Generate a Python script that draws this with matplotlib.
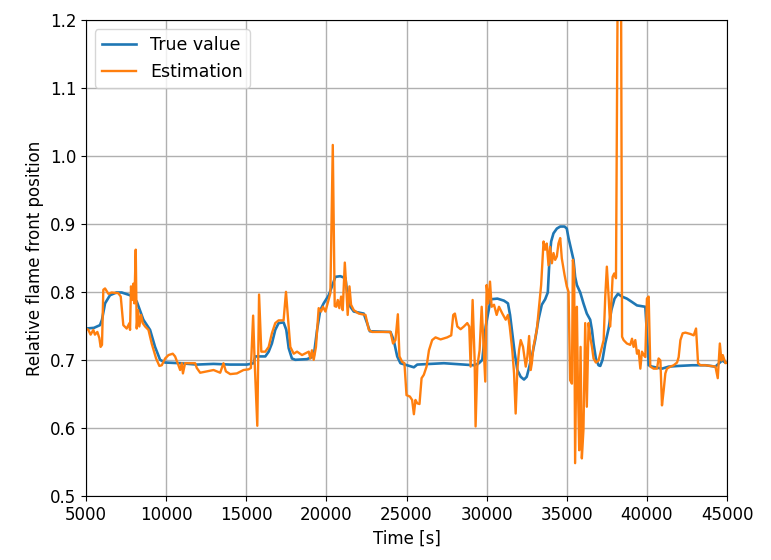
import matplotlib
matplotlib.use('Agg')
import matplotlib.pyplot as plt

# true value of the flame front position (time in s)
true_t = [5000, 5500, 5875, 6000, 6190, 6500, 6900, 7230, 7750, 8166,
          8580, 9000, 9310, 9625, 9940, 10875, 11915, 12960, 14000, 15040,
          15460, 15560, 16190, 16400, 16600, 16810, 17020, 17330, 17500, 17650,
          17850, 18060, 18790, 19210, 19420, 19620, 19830, 20150, 20350, 20560,
          20870, 21190, 21330, 21500, 21710, 22330, 22540, 22710, 24000, 24200,
          24420, 24620, 25040, 25460, 25670, 27330, 29210, 29520, 29730, 29940,
          30250, 30670, 31080, 31330, 31460, 31600, 31750, 31915, 32125, 32330,
          32500, 32610, 32820, 33025, 33230, 33440, 33650, 33815, 33920, 34025,
          34170, 34380, 34590, 34860, 35000, 35110, 35275, 35420, 35520, 35630,
          35840, 36040, 36250, 36460, 36570, 36670, 36815, 36980, 37090, 37230,
          37400, 37610, 37780, 37980, 38190, 38440, 38750, 39070, 39380, 39900,
          40025, 40110, 40320, 40940, 41360, 41980, 42820, 43650, 44275, 44690,
          44900, 45000]
true_y = [0.747, 0.748, 0.752, 0.760, 0.784, 0.796, 0.800, 0.800, 0.796, 0.787,
          0.760, 0.745, 0.720, 0.701, 0.697, 0.696, 0.694, 0.695, 0.694, 0.694,
          0.696, 0.706, 0.706, 0.713, 0.725, 0.745, 0.755, 0.756, 0.745, 0.718,
          0.703, 0.701, 0.702, 0.706, 0.745, 0.774, 0.784, 0.796, 0.809, 0.823,
          0.824, 0.821, 0.794, 0.779, 0.772, 0.769, 0.755, 0.743, 0.742, 0.730,
          0.706, 0.696, 0.693, 0.690, 0.694, 0.696, 0.693, 0.696, 0.701, 0.750,
          0.790, 0.791, 0.788, 0.784, 0.767, 0.740, 0.711, 0.686, 0.676, 0.672,
          0.676, 0.686, 0.706, 0.730, 0.760, 0.782, 0.790, 0.800, 0.848, 0.875,
          0.887, 0.894, 0.897, 0.897, 0.894, 0.880, 0.863, 0.848, 0.823, 0.811,
          0.800, 0.784, 0.769, 0.760, 0.745, 0.725, 0.703, 0.693, 0.692, 0.701,
          0.725, 0.747, 0.774, 0.791, 0.798, 0.794, 0.791, 0.786, 0.781, 0.779,
          0.730, 0.693, 0.691, 0.688, 0.691, 0.692, 0.693, 0.693, 0.691, 0.700,
          0.697, 0.697]

# estimated flame front position
est_t = [5000, 5150, 5290, 5460, 5560, 5710, 5835, 5915, 6000, 6083,
         6190, 6400, 6600, 7020, 7170, 7330, 7540, 7710, 7750, 7810,
         7895, 7960, 8020, 8105, 8166, 8250, 8330, 8440, 8540, 8690,
         8900, 9100, 9375, 9580, 9730, 9940, 10150, 10415, 10560, 10770,
         10875, 10980, 11050, 11185, 11810, 11915, 12125, 12540, 12960, 13375,
         13580, 13730, 14000, 14415, 14830, 15145, 15290, 15430, 15520, 15690,
         15800, 15940, 16190, 16400, 16600, 16810, 17020, 17330, 17480, 17600,
         17750, 17960, 18170, 18480, 18900, 19000, 19100, 19210, 19350, 19520,
         19670, 19790, 19940, 20080, 20250, 20400, 20520, 20620, 20710, 20810,
         20920, 21020, 21150, 21250, 21330, 21440, 21540, 21710, 22020, 22440,
         22650, 22850, 23270, 24000, 24160, 24310, 24460, 24560, 24730, 24870,
         25000, 25210, 25350, 25460, 25560, 25670, 25810, 25940, 26080, 26250,
         26400, 26600, 26810, 27125, 27540, 27790, 27915, 28020, 28170, 28375,
         28580, 28790, 28915, 29000, 29125, 29250, 29310, 29415, 29560, 29690,
         29830, 29915, 30000, 30100, 30210, 30310, 30460, 30625, 30770, 30980,
         31190, 31330, 31440, 31600, 31710, 31810, 31915, 32020, 32125, 32270,
         32440, 32540, 32650, 32750, 32820, 32920, 33130, 33275, 33400, 33550,
         33650, 33750, 33860, 33960, 34070, 34170, 34275, 34380, 34480, 34590,
         34690, 34860, 35000, 35110, 35210, 35320, 35380, 35460, 35520, 35630,
         35690, 35775, 35860, 35940, 36040, 36150, 36250, 36360, 36460, 36570,
         36670, 36815, 36980, 37150, 37300, 37400, 37500, 37610, 37710, 37860,
         37960, 38070, 38200, 38380, 38450, 38545, 38750, 38960, 39070, 39170,
         39275, 39380, 39480, 39590, 39690, 39800, 39900, 40000, 40110, 40210,
         40420, 40630, 40730, 40840, 40940, 41045, 41150, 41250, 41460, 41670,
         41880, 41980, 42090, 42230, 42400, 42710, 42920, 43065, 43190, 43340,
         43650, 43960, 44275, 44420, 44550, 44650, 44730, 44900, 45000]
est_y = [0.747, 0.745, 0.738, 0.745, 0.738, 0.742, 0.733, 0.720, 0.723, 0.804,
         0.806, 0.798, 0.800, 0.799, 0.794, 0.752, 0.747, 0.755, 0.745, 0.809,
         0.789, 0.813, 0.784, 0.863, 0.747, 0.774, 0.750, 0.767, 0.755, 0.750,
         0.745, 0.725, 0.703, 0.692, 0.693, 0.703, 0.708, 0.710, 0.706, 0.693,
         0.686, 0.696, 0.681, 0.696, 0.696, 0.689, 0.682, 0.684, 0.686, 0.682,
         0.696, 0.684, 0.680, 0.681, 0.686, 0.687, 0.689, 0.766, 0.701, 0.604,
         0.797, 0.713, 0.713, 0.720, 0.740, 0.755, 0.759, 0.759, 0.801, 0.764,
         0.720, 0.710, 0.713, 0.708, 0.713, 0.703, 0.715, 0.701, 0.720, 0.777,
         0.772, 0.779, 0.772, 0.784, 0.799, 1.017, 0.780, 0.779, 0.789, 0.777,
         0.794, 0.774, 0.844, 0.804, 0.767, 0.809, 0.782, 0.774, 0.769, 0.767,
         0.745, 0.742, 0.742, 0.742, 0.725, 0.730, 0.768, 0.706, 0.698, 0.696,
         0.649, 0.647, 0.642, 0.621, 0.642, 0.637, 0.636, 0.674, 0.679, 0.691,
         0.715, 0.730, 0.734, 0.731, 0.734, 0.737, 0.767, 0.769, 0.750, 0.746,
         0.750, 0.755, 0.750, 0.691, 0.789, 0.701, 0.603, 0.691, 0.715, 0.779,
         0.711, 0.669, 0.811, 0.784, 0.816, 0.779, 0.782, 0.767, 0.779, 0.769,
         0.760, 0.767, 0.750, 0.715, 0.681, 0.622, 0.686, 0.715, 0.730, 0.720,
         0.691, 0.706, 0.736, 0.686, 0.696, 0.720, 0.745, 0.780, 0.811, 0.875,
         0.863, 0.872, 0.840, 0.867, 0.843, 0.858, 0.848, 0.853, 0.872, 0.880,
         0.850, 0.826, 0.809, 0.801, 0.671, 0.666, 0.848, 0.833, 0.549, 0.779,
         0.671, 0.568, 0.720, 0.556, 0.598, 0.755, 0.632, 0.755, 0.735, 0.720,
         0.703, 0.697, 0.700, 0.716, 0.730, 0.794, 0.838, 0.794, 0.750, 0.823,
         0.828, 0.821, 1.350, 1.300, 0.735, 0.730, 0.725, 0.723, 0.732, 0.720,
         0.730, 0.710, 0.715, 0.688, 0.713, 0.708, 0.705, 0.791, 0.794, 0.691,
         0.688, 0.688, 0.703, 0.700, 0.634, 0.656, 0.681, 0.688, 0.691, 0.693,
         0.697, 0.705, 0.730, 0.740, 0.741, 0.739, 0.737, 0.747, 0.696, 0.693,
         0.693, 0.692, 0.691, 0.674, 0.725, 0.700, 0.708, 0.696, 0.697]

fig = plt.figure(figsize=(7.71, 5.6), dpi=100)
ax = fig.add_axes([0.1115, 0.1134, 0.8315, 0.85])
ax.plot(true_t, true_y, color='#1f77b4', lw=1.9, label='True value')
ax.plot(est_t, est_y, color='#ff7f0e', lw=1.7, label='Estimation')
ax.set_xlim(5000, 45000)
ax.set_ylim(0.5, 1.2)
ax.set_xticks(range(5000, 45001, 5000))
ax.grid(True, color='#b0b0b0', lw=1.0)
ax.tick_params(labelsize=12)
ax.set_xlabel('Time [s]', fontsize=12)
ax.set_ylabel('Relative flame front position', fontsize=12)
ax.legend(loc='upper left', fontsize=12.5)
fig.savefig('out.png', dpi=100)
